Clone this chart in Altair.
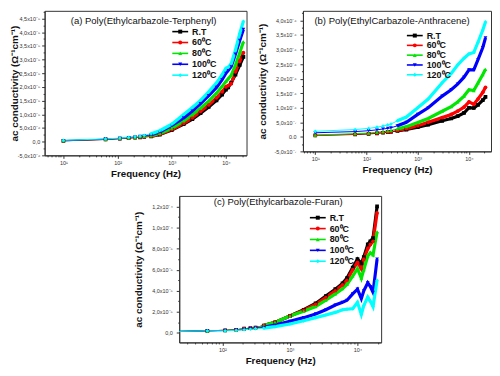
import altair as alt
import pandas as pd

SERIES = ["R.T", "60⁰C", "80⁰C", "100⁰C", "120⁰C"]
COLORS = ["#000000", "#ff0000", "#00e600", "#0000ff", "#00ffff"]
SHAPES = ["square", "circle", "triangle-up", "triangle-down", "diamond"]
FONT = "Liberation Sans"

# ---------------- panel (a) : units of 1e-5 ----------------
A_FREQ = [10, 60, 110, 160, 210, 260, 310, 415, 600, 1000, 1660, 2400, 3400, 4800,
          6700, 8500, 10000, 11000, 12500, 15000, 18000, 21000]
A_RT = [0.03, 0.08, 0.11, 0.13, 0.15, 0.16, 0.17, 0.19, 0.26, 0.42, 0.64, 0.82, 1.04, 1.27,
        1.51, 1.72, 1.90, 1.98, 2.15, 2.45, 2.80, 3.10]
A_60 = [0.03, 0.08, 0.11, 0.13, 0.15, 0.17, 0.18, 0.20, 0.27, 0.44, 0.67, 0.87, 1.11, 1.34,
        1.60, 1.82, 2.00, 2.05, 2.12, 2.55, 2.95, 3.25]
A_80 = [0.04, 0.09, 0.12, 0.14, 0.16, 0.18, 0.19, 0.22, 0.30, 0.49, 0.76, 0.98, 1.22, 1.48,
        1.77, 2.02, 2.20, 2.30, 2.42, 2.80, 3.25, 3.65]
A_100 = [0.04, 0.09, 0.12, 0.15, 0.17, 0.19, 0.21, 0.25, 0.35, 0.59, 0.87, 1.12, 1.39, 1.68,
         1.98, 2.27, 2.50, 2.60, 2.75, 3.20, 3.70, 4.10]
A_120 = [0.05, 0.10, 0.13, 0.16, 0.18, 0.20, 0.23, 0.29, 0.40, 0.64, 0.99, 1.25, 1.51, 1.82,
         2.15, 2.45, 2.68, 2.72, 2.85, 3.35, 3.95, 4.40]
A_YTICKS = [-0.5, 0, 0.5, 1.0, 1.5, 2.0, 2.5, 3.0, 3.5, 4.0, 4.5]
A_YLABELS = ["-5,0x10⁻⁶", "0,0", "5,0x10⁻⁶", "1,0x10⁻⁵", "1,5x10⁻⁵", "2,0x10⁻⁵",
             "2,5x10⁻⁵", "3,0x10⁻⁵", "3,5x10⁻⁵", "4,0x10⁻⁵", "4,5x10⁻⁵"]
A_XTICKS = [10, 100, 1000, 10000]
A_XLABELS = ["10¹", "10²", "10³", "10⁴"]
A_TITLE = "(a)  Poly(Ethylcarbazole-Terphenyl)"

# ---------------- panel (b) : units of 1e-6 ----------------
B_FREQ = [10, 60, 110, 160, 210, 260, 300, 400, 600, 1000, 1600, 3000, 4500, 6000,
          8000, 10000, 12400, 15000, 18600, 21000]
B_RT = [0.05, 0.08, 0.10, 0.12, 0.14, 0.16, 0.17, 0.20, 0.25, 0.33, 0.42, 0.55, 0.63, 0.71,
        0.82, 1.00, 0.99, 1.10, 1.26, 1.37]
B_60 = [0.05, 0.09, 0.11, 0.13, 0.15, 0.17, 0.18, 0.22, 0.28, 0.38, 0.50, 0.66, 0.77, 0.88,
        1.02, 1.20, 1.12, 1.30, 1.53, 1.70]
B_80 = [0.06, 0.11, 0.13, 0.16, 0.18, 0.20, 0.22, 0.27, 0.35, 0.49, 0.63, 0.88, 1.04, 1.20,
        1.40, 1.62, 1.59, 1.85, 2.14, 2.32]
B_100 = [0.14, 0.18, 0.21, 0.24, 0.27, 0.29, 0.31, 0.38, 0.50, 0.77, 1.00, 1.40, 1.62, 1.81,
         2.05, 2.30, 2.30, 2.65, 3.07, 3.40]
B_120 = [0.19, 0.25, 0.29, 0.33, 0.37, 0.41, 0.44, 0.55, 0.68, 1.00, 1.30, 1.86, 2.18, 2.47,
         2.70, 2.85, 2.90, 3.25, 3.67, 3.95]
B_YTICKS = [-0.5, 0, 0.5, 1.0, 1.5, 2.0, 2.5, 3.0, 3.5, 4.0]
B_YLABELS = ["-5,0x10⁻⁷", "0.0", "5,0x10⁻⁷", "1,0x10⁻⁶", "1,5x10⁻⁶", "2,0x10⁻⁶",
             "2,5x10⁻⁶", "3,0x10⁻⁶", "3,5x10⁻⁶", "4,0x10⁻⁶"]
B_XTICKS = [10, 100, 1000, 10000]
B_XLABELS = ["10¹", "10²", "10³", "10⁴"]
B_TITLE = "(b)  Poly(EthylCarbazole-Anthracene)"

# ---------------- panel (c) : units of 1e-4 ----------------
C_FREQ = [10, 60, 110, 160, 210, 260, 310, 410, 600, 1000, 1600, 2400, 3400, 4700,
          6000, 7000, 8500, 10000, 11400, 12400, 14200, 15500, 17000, 19500]
C_RT = [0.01, 0.02, 0.025, 0.03, 0.04, 0.045, 0.05, 0.07, 0.10, 0.16, 0.22, 0.28, 0.35, 0.415,
        0.47, 0.52, 0.62, 0.70, 0.66, 0.72, 0.84, 0.87, 0.90, 1.20]
C_60 = [0.01, 0.02, 0.025, 0.03, 0.04, 0.045, 0.05, 0.07, 0.10, 0.16, 0.215, 0.27, 0.335, 0.40,
        0.455, 0.50, 0.60, 0.67, 0.61, 0.70, 0.80, 0.84, 0.87, 1.14]
C_80 = [0.01, 0.02, 0.025, 0.03, 0.04, 0.045, 0.05, 0.07, 0.10, 0.16, 0.205, 0.25, 0.31, 0.37,
        0.42, 0.46, 0.54, 0.61, 0.52, 0.60, 0.73, 0.76, 0.74, 0.96]
C_100 = [0.01, 0.02, 0.022, 0.027, 0.033, 0.04, 0.045, 0.054, 0.075, 0.11, 0.145, 0.18, 0.22,
         0.265, 0.29, 0.31, 0.37, 0.415, 0.325, 0.40, 0.475, 0.44, 0.385, 0.70]
C_120 = [0.01, 0.02, 0.02, 0.025, 0.03, 0.035, 0.04, 0.045, 0.06, 0.085, 0.115, 0.145, 0.17,
         0.195, 0.22, 0.225, 0.23, 0.29, 0.175, 0.26, 0.34, 0.30, 0.25, 0.50]
C_YTICKS = [0, 0.2, 0.4, 0.6, 0.8, 1.0, 1.2]
C_YLABELS = ["0,0", "2,0x10⁻⁵", "4,0x10⁻⁵", "6,0x10⁻⁵", "8,0x10⁻⁵", "1,0x10⁻⁴", "1,2x10⁻⁴"]
C_XTICKS = [100, 1000, 10000]
C_XLABELS = ["10²", "10³", "10⁴"]
C_TITLE = "(c)  Poly(Ethylcarbazole-Furan)"

Y_TITLE = "ac conductivity  (Ω⁻¹cm⁻¹)"
X_TITLE = "Frequency (Hz)"


def long_df(freq, cols):
    rows = []
    for k, (name, vals) in enumerate(zip(SERIES, cols)):
        for f, v in zip(freq, vals):
            rows.append({"f": f, "v": v, "series": name, "k": k})
    return pd.DataFrame(rows)


def label_expr(vals, labels):
    arr = ",".join("'" + s + "'" for s in labels)
    vv = ",".join(repr(float(v)) for v in vals)
    return "[" + arr + "][indexof([" + vv + "], datum.value)]"


LOG_MINOR = [m * 10 ** e for e in range(0, 5) for m in range(2, 10)]


def panel(df, xdom, ydom, xt, xl, yt, yl, ymin, w, h, title, tx, ty,
          lx, ly0, ldy, ytpad, ylpad=2):
    xs = alt.Scale(type="log", domain=xdom, nice=False)
    ys = alt.Scale(domain=ydom, nice=False, zero=False)
    cs = alt.Scale(domain=SERIES, range=COLORS)
    ss = alt.Scale(domain=SERIES, range=SHAPES)
    x_major = alt.Axis(values=xt, labelExpr=label_expr(xt, xl), orient="bottom",
                       tickSize=3, labelFontSize=5.5, labelPadding=2, labelColor="#333",
                       title=X_TITLE, titleFontSize=9.8, titleFontWeight="bold",
                       titlePadding=3, titleColor="#111", grid=False, labelFlush=False)
    x_minor = alt.Axis(values=[v for v in LOG_MINOR if xdom[0] < v < xdom[1]],
                       orient="bottom", labels=False, tickSize=1.5, domain=False,
                       title=None, grid=False)
    y_major = alt.Axis(values=yt, labelExpr=label_expr(yt, yl), orient="left",
                       tickSize=3, labelFontSize=5.5, labelPadding=ylpad, labelColor="#333",
                       title=Y_TITLE, titleFontSize=10, titleFontWeight="bold",
                       titlePadding=ytpad, titleColor="#111", grid=False, labelFlush=False)
    y_minor = alt.Axis(values=ymin, orient="left", labels=False, tickSize=1.5,
                       domain=False, title=None, grid=False)

    base = alt.Chart(df)
    col = alt.Color("series:N", scale=cs, legend=None)
    thin = base.mark_line(strokeWidth=1, clip=True).encode(
        x=alt.X("f:Q", scale=xs, axis=x_major),
        y=alt.Y("v:Q", scale=ys, axis=y_major),
        color=col, detail="k:O")
    thick = base.transform_filter("datum.f >= 400").mark_line(
        strokeWidth=3.2, clip=True).encode(
        x=alt.X("f:Q", scale=xs, axis=None),
        y=alt.Y("v:Q", scale=ys, axis=None),
        color=col, detail="k:O")
    pts = base.mark_point(filled=True, size=14, opacity=1, clip=True).encode(
        x=alt.X("f:Q", scale=xs, axis=x_minor),
        y=alt.Y("v:Q", scale=ys, axis=y_minor),
        color=col,
        shape=alt.Shape("series:N", scale=ss, legend=None))

    leg_df = pd.DataFrame({"series": SERIES, "i": list(range(len(SERIES)))})
    leg = alt.Chart(leg_df).transform_calculate(ly=f"{ly0} + datum.i * {ldy}")
    ly = alt.Y("ly:Q", scale=None, axis=None)
    leg_rule = leg.mark_rule(strokeWidth=1.6).encode(
        x=alt.value(lx), x2=alt.value(lx + 16), y=ly, color=col)
    leg_pt = leg.mark_point(filled=True, size=16, opacity=1).encode(
        x=alt.value(lx + 8), y=ly, color=col,
        shape=alt.Shape("series:N", scale=ss, legend=None))
    leg_txt = leg.mark_text(align="left", baseline="middle", font=FONT,
                            fontWeight="bold", fontSize=9, color="#111").encode(
        x=alt.value(lx + 20), y=ly, text="series:N")

    ttl = alt.Chart(pd.DataFrame({"t": [title]})).mark_text(
        align="center", baseline="middle", font=FONT, fontSize=9.6, color="#111").encode(
        x=alt.value(tx), y=alt.value(ty), text="t:N")

    return alt.layer(thin, thick, pts, leg_rule, leg_pt, leg_txt, ttl).resolve_axis(
        x="independent", y="independent").properties(width=w, height=h)


pa = panel(long_df(A_FREQ, [A_RT, A_60, A_80, A_100, A_120]),
           [4.5, 24000], [-0.5, 4.78], A_XTICKS, A_XLABELS, A_YTICKS, A_YLABELS,
           [-0.25, 0.25, 0.75, 1.25, 1.75, 2.25, 2.75, 3.25, 3.75, 4.25, 4.75],
           204, 146, A_TITLE, 100, 10, 129, 21, 11, -2)
pb = panel(long_df(B_FREQ, [B_RT, B_60, B_80, B_100, B_120]),
           [5.75, 26900], [-0.5, 4.33], B_XTICKS, B_XLABELS, B_YTICKS, B_YLABELS,
           [-0.25, 0.25, 0.75, 1.25, 1.75, 2.25, 2.75, 3.25, 3.75, 4.25],
           190, 142, B_TITLE, 90, 10, 105, 25, 9.9, 6, 4)
pc = panel(long_df(C_FREQ, [C_RT, C_60, C_80, C_100, C_120]),
           [23, 22400], [-0.09, 1.3], C_XTICKS, C_XLABELS, C_YTICKS, C_YLABELS,
           [0.1, 0.3, 0.5, 0.7, 0.9, 1.1],
           204, 148, C_TITLE, 100, 6, 132, 22, 11, 8, 4)

spacer = alt.Chart(pd.DataFrame({"z": [0]})).mark_point(opacity=0).encode(
    x=alt.value(0), y=alt.value(0)).properties(
    width=89, height=1, view=alt.ViewBackground(strokeOpacity=0))

top = alt.hconcat(pa, pb, spacing=10)
bottom = alt.hconcat(spacer, pc, spacing=0)
chart = alt.vconcat(top, bottom, spacing=14).properties(
    padding={"left": 0, "top": 0, "right": 0, "bottom": 0},
    background="white",
).configure_view(stroke="#333", strokeWidth=1).configure_axis(
    domainColor="#333", tickColor="#333", labelFont=FONT, titleFont=FONT)

chart.save("out.html", embed_options={"renderer": "svg", "actions": False})
